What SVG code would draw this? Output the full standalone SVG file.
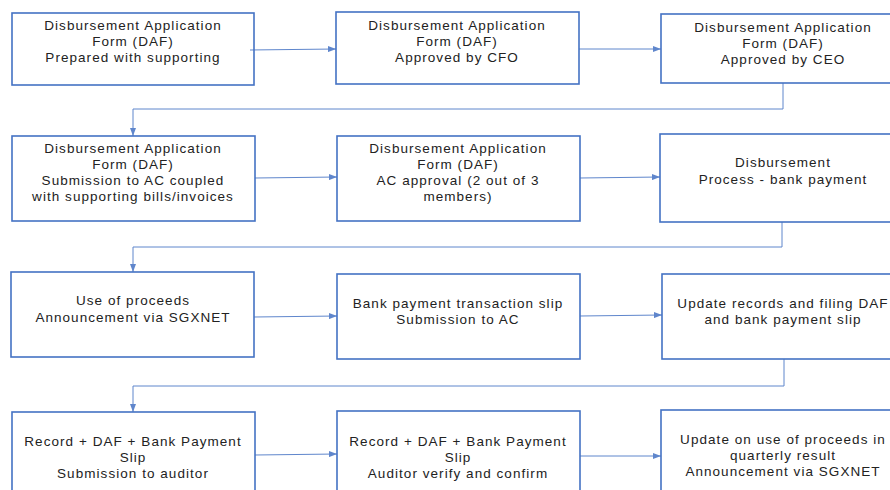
<svg xmlns="http://www.w3.org/2000/svg" width="890" height="490" viewBox="0 0 890 490">
<defs>
<marker id="ah" markerWidth="8" markerHeight="6" refX="8" refY="3" orient="auto" markerUnits="userSpaceOnUse">
<path d="M0,0 L8,3 L0,6 Z" fill="#4472C4"/>
</marker>
<style>
.box{fill:#fff;stroke:#4472C4;stroke-width:1.6}
.t{font-family:"Liberation Sans",Arial,sans-serif;font-size:13.5px;letter-spacing:1.05px;fill:#222;text-anchor:middle}
.c{fill:none;stroke:#4472C4;stroke-width:1;opacity:0.85}
</style>
</defs>
<rect width="890" height="490" fill="#fff"/>
<g id="n1"><rect class="box" x="12" y="13" width="242" height="72"/>
<text class="t" x="133" y="30">Disbursement Application</text><text class="t" x="133" y="46">Form (DAF)</text><text class="t" x="133" y="62">Prepared with supporting</text></g>
<g id="n2"><rect class="box" x="336" y="12" width="243" height="72"/>
<text class="t" x="457" y="30">Disbursement Application</text><text class="t" x="457" y="46">Form (DAF)</text><text class="t" x="457" y="62">Approved by CFO</text></g>
<g id="n3"><rect class="box" x="661" y="14" width="243" height="69"/>
<text class="t" x="783" y="32">Disbursement Application</text><text class="t" x="783" y="48">Form (DAF)</text><text class="t" x="783" y="64">Approved by CEO</text></g>
<g id="n4"><rect class="box" x="12" y="136" width="243" height="85"/>
<text class="t" x="133" y="153">Disbursement Application</text><text class="t" x="133" y="169">Form (DAF)</text><text class="t" x="133" y="185">Submission to AC coupled</text><text class="t" x="133" y="201">with supporting bills/invoices</text></g>
<g id="n5"><rect class="box" x="337" y="136" width="243" height="85"/>
<text class="t" x="458" y="153">Disbursement Application</text><text class="t" x="458" y="169">Form (DAF)</text><text class="t" x="458" y="185">AC approval (2 out of 3</text><text class="t" x="458" y="201">members)</text></g>
<g id="n6"><rect class="box" x="660" y="134" width="243" height="88"/>
<text class="t" x="783" y="167">Disbursement</text><text class="t" x="783" y="184">Process - bank payment</text></g>
<g id="n7"><rect class="box" x="11" y="272" width="243" height="85"/>
<text class="t" x="133" y="305">Use of proceeds</text><text class="t" x="133" y="322">Announcement via SGXNET</text></g>
<g id="n8"><rect class="box" x="337" y="274" width="243" height="85"/>
<text class="t" x="458" y="308">Bank payment transaction slip</text><text class="t" x="458" y="324">Submission to AC</text></g>
<g id="n9"><rect class="box" x="662" y="274" width="243" height="85"/>
<text class="t" x="783" y="308">Update records and filing DAF</text><text class="t" x="783" y="324">and bank payment slip</text></g>
<g id="n10"><rect class="box" x="12" y="412" width="243" height="90"/>
<text class="t" x="133" y="446">Record + DAF + Bank Payment</text><text class="t" x="133" y="462">Slip</text><text class="t" x="133" y="478">Submission to auditor</text></g>
<g id="n11"><rect class="box" x="337" y="411" width="243" height="90"/>
<text class="t" x="458" y="446">Record + DAF + Bank Payment</text><text class="t" x="458" y="462">Slip</text><text class="t" x="458" y="478">Auditor verify and confirm</text></g>
<g id="n12"><rect class="box" x="661" y="410" width="243" height="90"/>
<text class="t" x="783" y="444">Update on use of proceeds in</text><text class="t" x="783" y="460">quarterly result</text><text class="t" x="783" y="476">Announcement via SGXNET</text></g>
<g id="connectors">
<path class="c" d="M250,50 L336,49" marker-end="url(#ah)"/>
<path class="c" d="M579,49 L661,49" marker-end="url(#ah)"/>
<path class="c" d="M783,83 V109 H133 V136" marker-end="url(#ah)"/>
<path class="c" d="M255,178 L337,177" marker-end="url(#ah)"/>
<path class="c" d="M580,178 L660,177" marker-end="url(#ah)"/>
<path class="c" d="M782,222 V247 H133 V272" marker-end="url(#ah)"/>
<path class="c" d="M254,317 L337,316" marker-end="url(#ah)"/>
<path class="c" d="M580,316 L662,315" marker-end="url(#ah)"/>
<path class="c" d="M784,359 V386 H133 V412" marker-end="url(#ah)"/>
<path class="c" d="M255,455 L337,454" marker-end="url(#ah)"/>
<path class="c" d="M580,456 L661,456" marker-end="url(#ah)"/>
</g>
</svg>
